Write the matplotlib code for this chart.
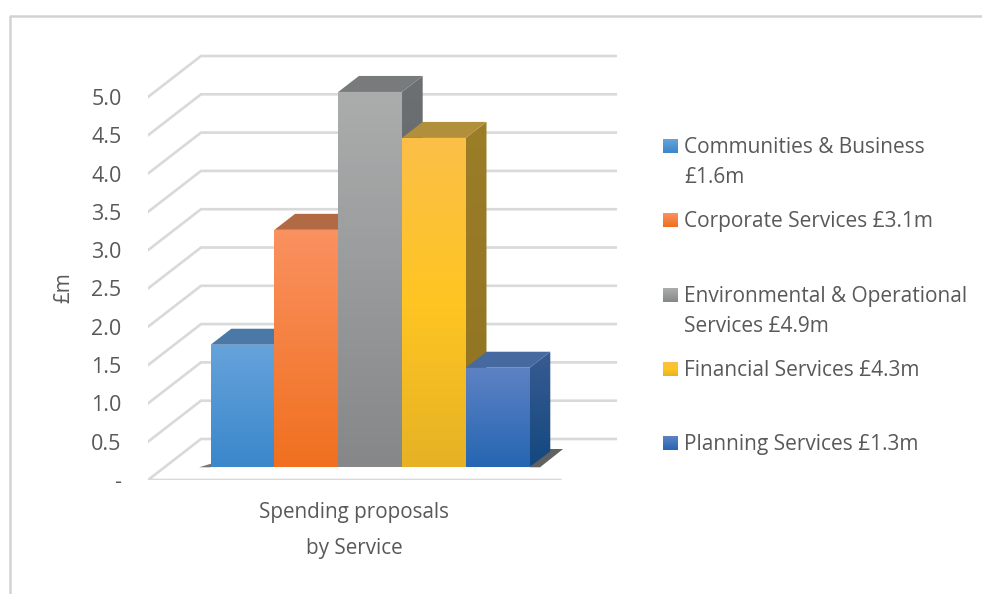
import matplotlib
matplotlib.use("Agg")
import matplotlib.pyplot as plt
import numpy as np
from matplotlib.colors import LinearSegmentedColormap
from matplotlib.patches import Polygon

plt.rcParams['font.family'] = ['Open Sans', 'DejaVu Sans']

# Spending per service, in £m
services = ['Communities & Business\n£1.6m', 'Corporate Services £3.1m',
            'Environmental & Operational\nServices £4.9m', 'Financial Services £4.3m',
            'Planning Services £1.3m']
values = [1.6, 3.1, 4.9, 4.3, 1.3]
tick_values = [0, 0.5, 1.0, 1.5, 2.0, 2.5, 3.0, 3.5, 4.0, 4.5, 5.0]
tick_labels = ['-', '0.5', '1.0', '1.5', '2.0', '2.5', '3.0', '3.5', '4.0', '4.5', '5.0']
category_label = 'Spending proposals\nby Service'
value_label = '£m'

# Face colours, top to bottom
front_colors = [['#66A3DB', '#3A87CA'],
                ['#FA9160', '#F0701F'],
                ['#ABADAD', '#858789'],
                ['#FBBF48', '#FFC522', '#E6B225'],
                ['#5E82C4', '#2566B2']]
side_colors = [['#3F74A8', '#2A639F'],
               ['#A9562C', '#A04E20'],
               ['#6C7072', '#5C6062'],
               ['#9C7D28', '#8F7322'],
               ['#385C92', '#13487F']]
top_colors = ['#4A79A8', '#B26A44', '#787B7C', '#B28F3A', '#466A9F']

W, H = 982, 594
TEXT = '#595959'
GRID = '#D9D9D9'
FRAME = '#D2D2D2'

fig = plt.figure(figsize=(W / 100, H / 100), dpi=100)
fig.patch.set_facecolor('white')

# Axes: x counts bar widths from the front-left floor corner, y is in £m
unit_x = 63.8
unit_y = 76.6
ax_left, ax_bottom_px = 148, 480
xmax = (W - ax_left) / unit_x
ymax = 5.6
ax = fig.add_axes([ax_left / W, (H - ax_bottom_px) / H,
                   (W - ax_left) / W, ymax * unit_y / H])
ax.patch.set_alpha(0)
for s in ax.spines.values():
    s.set_visible(False)

# Oblique projection: depth 0 is the front of the floor, depth 1 the back wall
depth_x = 53 / unit_x
depth_y = 41 / unit_y


def project(x, y, d):
    return x + d * depth_x, y + d * depth_y


def gradient_face(points, colors, zorder):
    pts = np.array(points)
    cmap = LinearSegmentedColormap.from_list('face', colors)
    extent = [pts[:, 0].min(), pts[:, 0].max(), pts[:, 1].min(), pts[:, 1].max()]
    im = ax.imshow(np.linspace(1, 0, 128).reshape(-1, 1), cmap=cmap, extent=extent,
                   aspect='auto', origin='lower', zorder=zorder, vmin=0, vmax=1)
    im.set_clip_path(Polygon(pts, closed=True, transform=ax.transData))


# Walls and floor lines
wall_width = 6.5
floor_width = 6.46
for v in tick_values:
    pts = [project(0, v, 0), project(0, v, 1), project(wall_width, v, 1)]
    if v == 0:
        pts = [project(floor_width, 0, 0)] + pts
    ax.plot(*zip(*pts), color=GRID, lw=1.9, zorder=1, solid_joinstyle='miter')

# Bars
bar_start = 0.724
d_front, d_back = 0.31, 0.70

# Contact shadow on the floor
last_edge = bar_start + 5
shadows = [([(bar_start - 0.18, d_front), (bar_start, d_front), (bar_start, d_front + 0.14)], 0.7),
           ([(last_edge, d_front), (last_edge + 0.163, d_front),
             (last_edge + 0.154, d_front + 0.446), (last_edge - 0.054, d_front + 0.446)], 0.8)]
for pts, alpha in shadows:
    ax.add_patch(Polygon([project(x, 0, d) for x, d in pts], closed=True, facecolor='#3A3A3A',
                         edgecolor='none', alpha=alpha, zorder=2))

for i, v in enumerate(values):
    x0, x1 = bar_start + i, bar_start + i + 1
    z = 3 + i
    side = [project(x1, 0, d_front), project(x1, v, d_front),
            project(x1, v, d_back), project(x1, 0, d_back)]
    gradient_face(side, side_colors[i], z)
    top = [project(x0, v, d_front), project(x1, v, d_front),
           project(x1, v, d_back), project(x0, v, d_back)]
    ax.add_patch(Polygon(top, closed=True, facecolor=top_colors[i], edgecolor='none', zorder=z))
    front = [project(x0, 0, d_front), project(x1, 0, d_front),
             project(x1, v, d_front), project(x0, v, d_front)]
    gradient_face(front, front_colors[i], z + 0.5)

ax.set_xlim(0, xmax)
ax.set_ylim(0, ymax)

# Axis labels
ax.set_yticks(tick_values, tick_labels, color=TEXT, fontsize=15.5)
ax.tick_params(axis='y', length=0, pad=19)
ax.set_xticks([(354 - ax_left) / unit_x], [category_label], color=TEXT, fontsize=14.9,
              linespacing=1.95)
ax.tick_params(axis='x', length=0, pad=16)
fig.text(63.5 / W, 1 - 288 / H, value_label, rotation=90, color=TEXT, fontsize=14.9,
         ha='center', va='center')

# Legend with uneven row spacing
legend_y = [146, 220, 295, 369, 443]
for label, y, colors in zip(services, legend_y, front_colors):
    cmap = LinearSegmentedColormap.from_list('key', colors)
    key = fig.add_axes([663 / W, 1 - (y + 7) / H, 15 / W, 14 / H])
    key.imshow(np.linspace(0, 1, 32).reshape(-1, 1), cmap=cmap, aspect='auto')
    key.axis('off')
    fig.text(684 / W, 1 - (y - 9) / H, label, color=TEXT, fontsize=15, ha='left',
             va='top', linespacing=1.57)

# Thin frame along the top and left edges
fig.add_artist(plt.Line2D([1, 9.5 / W, 9.5 / W], [1 - 15.5 / H, 1 - 15.5 / H, 0],
                          transform=fig.transFigure, color=FRAME, lw=1.8))

fig.savefig('out.png', dpi=100)
